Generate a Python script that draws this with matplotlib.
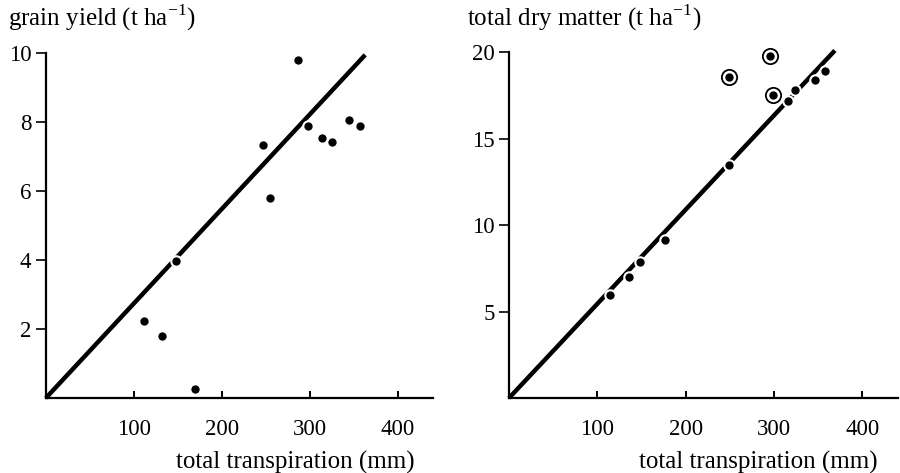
import matplotlib.pyplot as plt

plt.rcParams['font.family'] = ['Liberation Serif', 'DejaVu Serif']
plt.rcParams['mathtext.fontset'] = 'custom'
plt.rcParams['mathtext.rm'] = 'Liberation Serif'

# grain yield panel
grain_x = [287, 247, 298, 314, 325, 345, 357, 255, 148, 112, 132, 170]
grain_y = [9.8, 7.35, 7.88, 7.55, 7.43, 8.06, 7.9, 5.81, 3.97, 2.23, 1.81, 0.25]
grain_line_x = [0, 363]
grain_line_y = [0, 9.95]

# total dry matter panel
dm_x = [316, 324, 347, 358, 249, 177, 148, 136, 114]
dm_y = [17.2, 17.84, 18.4, 18.9, 13.5, 9.13, 7.84, 7.01, 5.95]
dm_ring_x = [249, 295, 299]
dm_ring_y = [18.57, 19.77, 17.55]
dm_line_x = [0, 369]
dm_line_y = [0, 20.1]

x_ticks = [100, 200, 300, 400]

fig = plt.figure(figsize=(9, 4.73), dpi=100)
ax1 = fig.add_axes([0.051, 0.1586, 0.430, 0.729])
ax2 = fig.add_axes([0.5656, 0.1586, 0.4317, 0.731])


def style(ax, ylim, yticks):
    ax.set_xlim(0, 440)
    ax.set_ylim(*ylim)
    ax.set_xticks(x_ticks)
    ax.set_yticks(yticks)
    for s in ['top', 'right']:
        ax.spines[s].set_visible(False)
    for s in ['left', 'bottom']:
        ax.spines[s].set_linewidth(1.6)
    ax.tick_params(axis='x', direction='in', length=5, width=1.4, labelsize=16.5, pad=15)
    ax.tick_params(axis='y', direction='out', length=7, width=1.2, labelsize=16.5, pad=3.5)


ax1.plot(grain_line_x, grain_line_y, color='black', lw=3.2, solid_capstyle='butt', zorder=2, clip_on=False)
ax1.plot(grain_x, grain_y, 'o', color='black', ms=7.5, mec='white', mew=1.5, zorder=3, clip_on=False)
style(ax1, (0, 10), [2, 4, 6, 8, 10])

ax2.plot(dm_line_x, dm_line_y, color='black', lw=3.2, solid_capstyle='butt', zorder=2, clip_on=False)
ax2.plot(dm_x, dm_y, 'o', color='black', ms=7.5, mec='white', mew=1.5, zorder=3, clip_on=False)
ax2.plot(dm_ring_x, dm_ring_y, 'o', mfc='white', mec='black', ms=11, mew=1.3, zorder=3, clip_on=False)
ax2.plot(dm_ring_x, dm_ring_y, 'o', color='black', ms=6, mec='black', mew=0, zorder=4, clip_on=False)
style(ax2, (0, 20), [5, 10, 15, 20])

fig.text(0.009, 0.962, r'grain yield (t ha$^{\mathregular{-1}}$)', fontsize=18, va='center')
fig.text(0.519, 0.962, r'total dry matter (t ha$^{\mathregular{-1}}$)', fontsize=18, va='center')
fig.text(0.461, 0.023, 'total transpiration (mm)', fontsize=18, ha='right', va='center')
fig.text(0.975, 0.023, 'total transpiration (mm)', fontsize=18, ha='right', va='center')

fig.savefig('out.png', dpi=100)
